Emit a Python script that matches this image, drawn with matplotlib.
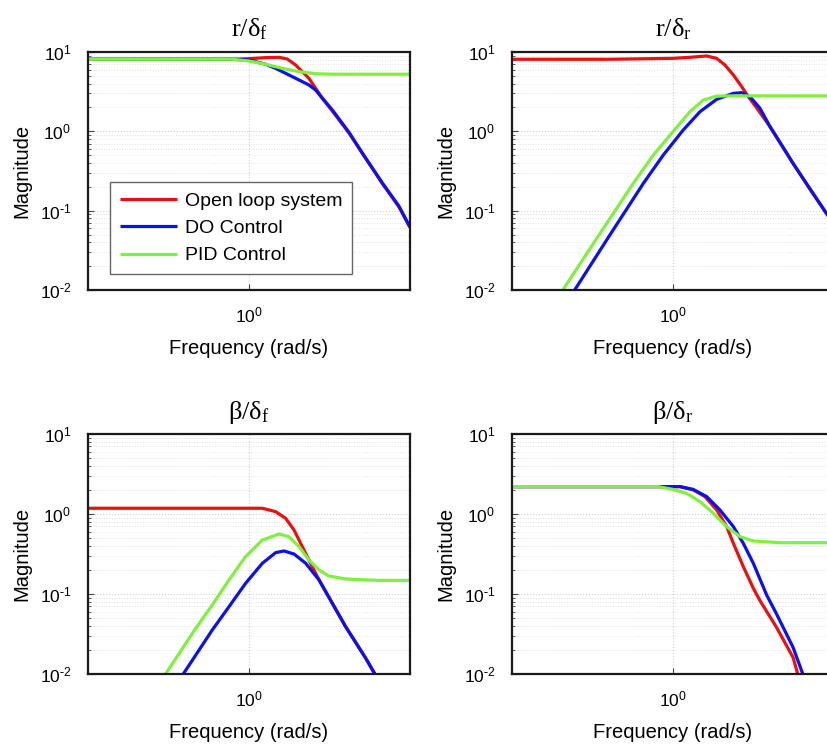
import numpy as np
import matplotlib
matplotlib.use("Agg")
import matplotlib.pyplot as plt
from matplotlib.ticker import FixedLocator, LogLocator, NullFormatter

plt.rcParams['font.family'] = ['Liberation Sans', 'DejaVu Sans']
plt.rcParams['mathtext.fontset'] = 'custom'
plt.rcParams['mathtext.rm'] = 'Liberation Serif'
plt.rcParams['mathtext.it'] = 'Liberation Serif'
plt.rcParams['mathtext.sf'] = 'Liberation Sans'

RED = '#e81010'
BLUE = '#0a10f0'
GREEN = '#80f040'

series_labels = ['Open loop system', 'DO Control', 'PID Control']
titles = [r'$\mathrm{r/\delta_f}$', r'$\mathrm{r/\delta_r}$',
          r'$\mathrm{\beta/\delta_f}$', r'$\mathrm{\beta/\delta_r}$']
ytick_vals = [1e-2, 1e-1, 1e0, 1e1]
ytick_labels = [r'$\mathsf{10^{\text{-}2}}$', r'$\mathsf{10^{\text{-}1}}$',
                r'$\mathsf{10^{0}}$', r'$\mathsf{10^{1}}$']
xtick_vals = [1.0]
xtick_labels = [r'$\mathsf{10^{0}}$']

# ---- r / delta_f ----
rf_open_w = [0.316, 0.887, 1.0, 1.127, 1.24, 1.315, 1.396, 1.464, 1.535, 1.61, 1.69, 1.815, 2.045, 2.25, 2.594, 2.924, 3.16]
rf_open_m = [8.1, 8.1, 8.24, 8.49, 8.57, 8.16, 6.85, 5.65, 4.66, 3.49, 2.61, 1.80, 0.95, 0.528, 0.22, 0.111, 0.062]
rf_do_w = [0.316, 0.887, 1.0, 1.127, 1.21, 1.30, 1.43, 1.535, 1.61, 1.69, 1.815, 2.045, 2.25, 2.594, 2.924, 3.16]
rf_do_m = [8.1, 8.1, 7.93, 7.0, 6.22, 5.38, 4.44, 3.84, 3.32, 2.61, 1.86, 0.97, 0.53, 0.224, 0.1135, 0.062]
rf_pid_w = [0.316, 0.887, 1.0, 1.127, 1.269, 1.43, 1.61, 1.815, 2.2, 3.16]
rf_pid_m = [8.1, 8.1, 7.7, 7.0, 6.22, 5.65, 5.33, 5.25, 5.25, 5.25]

# ---- r / delta_r ----
rr_open_w = [0.316, 0.637, 1.0, 1.129, 1.272, 1.366, 1.45, 1.54, 1.634, 1.713, 1.815, 2.0, 2.094, 2.36, 2.658, 3.16]
rr_open_m = [8.1, 8.1, 8.32, 8.57, 8.91, 8.32, 6.85, 5.13, 3.66, 2.74, 2.0, 1.15, 0.856, 0.394, 0.19, 0.067]
rr_do_w = [0.495, 0.636, 0.809, 0.933, 1.076, 1.213, 1.366, 1.54, 1.634, 1.734, 1.863, 2.0, 2.094, 2.36, 2.658, 3.16]
rr_do_m = [0.01, 0.049, 0.221, 0.503, 1.04, 1.77, 2.53, 3.01, 3.07, 2.74, 1.95, 1.15, 0.856, 0.394, 0.19, 0.067]
rr_pid_w = [0.455, 0.578, 0.753, 0.869, 1.0, 1.129, 1.242, 1.366, 1.577, 3.16]
rr_pid_m = [0.01, 0.044, 0.221, 0.503, 0.99, 1.77, 2.48, 2.78, 2.8, 2.8]

# ---- beta / delta_f ----
bf_open_w = [0.316, 1.10, 1.21, 1.30, 1.38, 1.464, 1.553, 1.65, 1.815, 1.996, 2.303, 2.46]
bf_open_m = [1.18, 1.18, 1.07, 0.883, 0.63, 0.391, 0.242, 0.15, 0.0764, 0.039, 0.0158, 0.01]
bf_do_w = [0.625, 0.769, 0.867, 0.976, 1.10, 1.21, 1.284, 1.38, 1.50, 1.65, 1.815, 1.996, 2.303, 2.46]
bf_do_m = [0.01, 0.0355, 0.0695, 0.136, 0.242, 0.329, 0.345, 0.316, 0.242, 0.15, 0.0764, 0.039, 0.0158, 0.01]
bf_pid_w = [0.551, 0.683, 0.769, 0.867, 0.976, 1.10, 1.24, 1.33, 1.43, 1.535, 1.65, 1.77, 1.996, 2.53, 3.16]
bf_pid_m = [0.01, 0.0372, 0.0729, 0.15, 0.293, 0.473, 0.562, 0.521, 0.391, 0.266, 0.2, 0.168, 0.154, 0.148, 0.148]

# ---- beta / delta_r ----
br_open_w = [0.316, 1.05, 1.156, 1.257, 1.367, 1.468, 1.54, 1.653, 1.776, 1.858, 2.094, 2.36, 2.44]
br_open_m = [2.2, 2.2, 2.0, 1.65, 1.12, 0.695, 0.43, 0.22, 0.118, 0.084, 0.0386, 0.0161, 0.01]
br_do_w = [0.316, 1.05, 1.156, 1.272, 1.40, 1.54, 1.653, 1.776, 1.954, 2.094, 2.36, 2.53]
br_do_m = [2.2, 2.2, 2.03, 1.65, 1.12, 0.695, 0.43, 0.242, 0.097, 0.0569, 0.0215, 0.01]
br_pid_w = [0.316, 0.9, 1.0, 1.103, 1.213, 1.334, 1.468, 1.615, 1.776, 2.15, 3.16]
br_pid_m = [2.2, 2.2, 2.03, 1.81, 1.43, 1.02, 0.695, 0.521, 0.46, 0.438, 0.438]

panels = [
    [(rf_open_w, rf_open_m), (rf_do_w, rf_do_m), (rf_pid_w, rf_pid_m)],
    [(rr_open_w, rr_open_m), (rr_do_w, rr_do_m), (rr_pid_w, rr_pid_m)],
    [(bf_open_w, bf_open_m), (bf_do_w, bf_do_m), (bf_pid_w, bf_pid_m)],
    [(br_open_w, br_open_m), (br_do_w, br_do_m), (br_pid_w, br_pid_m)],
]
colors = [RED, BLUE, GREEN]

W, H = 828, 746
fig = plt.figure(figsize=(W / 100, H / 100), dpi=100)
# axes boxes in pixels: left, top, width, height
boxes = [(88, 52, 322, 238), (512, 52, 322, 238),
         (88, 434, 322, 240), (512, 434, 322, 240)]

for i, (box, curves, title) in enumerate(zip(boxes, panels, titles)):
    l, t, w, h = box
    ax = fig.add_axes([l / W, 1 - (t + h) / H, w / W, h / H])
    ax.set_xscale('log')
    ax.set_yscale('log')
    for (fw, fm), c, lab in zip(curves, colors, series_labels):
        ax.plot(fw, fm, color=c, lw=2.3, label=lab,
                solid_joinstyle='round', solid_capstyle='butt')
    ax.set_xlim(10 ** -0.5, 10 ** 0.5)
    ax.set_ylim(1e-2, 1e1)
    ax.xaxis.set_major_locator(FixedLocator(xtick_vals))
    ax.xaxis.set_minor_locator(FixedLocator([]))
    ax.set_xticklabels(xtick_labels)
    ax.yaxis.set_major_locator(FixedLocator(ytick_vals))
    ax.set_yticklabels(ytick_labels)
    ax.yaxis.set_minor_locator(LogLocator(base=10, subs=np.arange(2, 10), numticks=20))
    ax.yaxis.set_minor_formatter(NullFormatter())
    ax.tick_params(which='both', direction='in', labelsize=12.5, color='#444444')
    ax.tick_params(which='major', length=4, width=0.8)
    ax.tick_params(which='minor', length=2.5, width=0.6)
    ax.tick_params(axis='y', pad=12)
    ax.tick_params(axis='x', pad=11)
    ax.grid(True, which='major', color='#cfcfcf', lw=0.8, ls=':')
    ax.grid(True, which='minor', axis='y', color='#e2e2e2', lw=0.7, ls=':')
    for s in ax.spines.values():
        s.set_linewidth(1.6)
        s.set_color('#1a1a1a')
    ax.set_xlabel('Frequency (rad/s)', fontsize=14.5, labelpad=10)
    ax.set_ylabel('Magnitude', fontsize=14.5, labelpad=6)
    ax.set_title(title, fontsize=19, pad=11)
    if i == 0:
        leg = ax.legend(loc='lower left', bbox_to_anchor=(0.068, 0.067),
                        fontsize=14, handlelength=2.95, handletextpad=0.42,
                        borderpad=0.5, labelspacing=0.5, fancybox=False,
                        framealpha=1, edgecolor='#666666', borderaxespad=0)
        leg.get_frame().set_linewidth(1.0)

fig.savefig('out.png', dpi=100)
